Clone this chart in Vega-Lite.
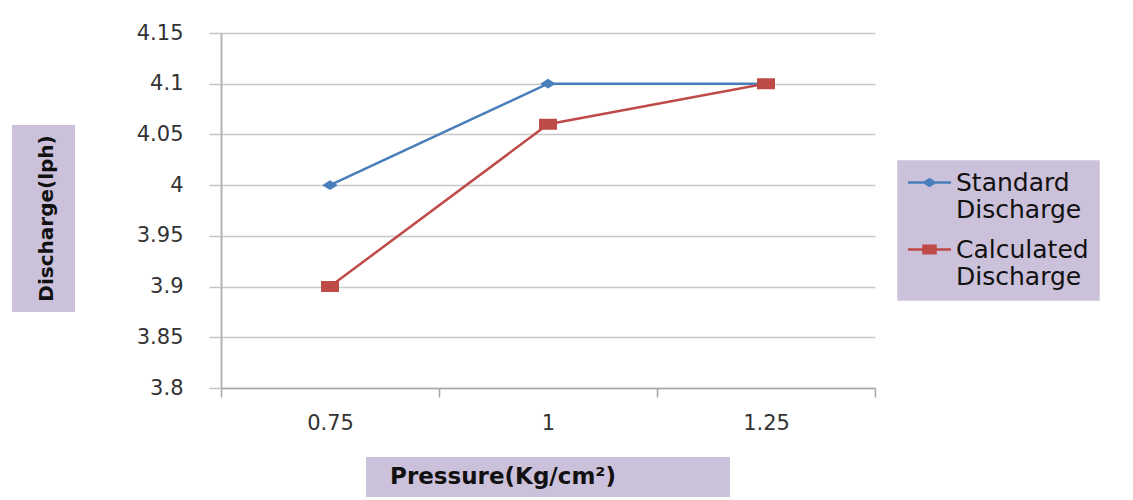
{
  "$schema": "https://vega.github.io/schema/vega-lite/v6.json",
  "background": "white",
  "padding": {"left": 12, "top": 22, "right": 0, "bottom": 0},
  "config": {
    "font": "DejaVu Sans",
    "view": {"stroke": null},
    "axis": {"labelFont": "DejaVu Sans", "labelColor": "#333333", "labelFontSize": 21}
  },
  "spacing": 209,
  "bounds": "flush",
  "hconcat": [
    {
      "spacing": 0,
      "bounds": "flush",
      "vconcat": [
        {
          "width": 63,
          "height": 92,
          "data": {"values": [{"t": ""}]},
          "mark": {"type": "text"},
          "encoding": {"text": {"field": "t"}}
        },
        {
          "width": 63,
          "height": 187,
          "view": {"fill": "#ccc1da", "stroke": null},
          "data": {"values": [{"t": "Discharge(lph)"}]},
          "mark": {"type": "text", "angle": 270, "fontWeight": "bold", "fontSize": 20, "color": "#111111", "dy": 3},
          "encoding": {"text": {"field": "t"}}
        }
      ]
    },
    {
      "spacing": 69,
      "center": true,
      "bounds": "flush",
      "vconcat": [
        {
          "width": 654,
          "height": 355,
          "data": {
            "values": [
              {"pressure": 0.75, "discharge": 4.0, "series": "Standard Discharge"},
              {"pressure": 1, "discharge": 4.1, "series": "Standard Discharge"},
              {"pressure": 1.25, "discharge": 4.1, "series": "Standard Discharge"},
              {"pressure": 0.75, "discharge": 3.9, "series": "Calculated Discharge"},
              {"pressure": 1, "discharge": 4.06, "series": "Calculated Discharge"},
              {"pressure": 1.25, "discharge": 4.1, "series": "Calculated Discharge"}
            ]
          },
          "encoding": {
            "x": {
              "field": "pressure",
              "type": "ordinal",
              "scale": {"type": "band", "paddingInner": 0, "paddingOuter": 0},
              "axis": {
                "title": null,
                "labelAngle": 0,
                "labelPadding": 15,
                "tickBand": "extent",
                "tickSize": 9,
                "tickColor": "#a6a6a6",
                "tickWidth": 1.5,
                "domainColor": "#a6a6a6",
                "domainWidth": 1.5,
                "grid": false
              }
            },
            "y": {
              "field": "discharge",
              "type": "quantitative",
              "scale": {"domain": [3.8, 4.15], "nice": false, "zero": false},
              "axis": {
                "title": null,
                "values": [3.8, 3.85, 3.9, 3.95, 4, 4.05, 4.1, 4.15],
                "format": "~g",
                "labelPadding": 26,
                "tickSize": 12,
                "tickColor": "#c4c4c4",
                "tickWidth": 1.5,
                "gridColor": "#c8c8c8",
                "gridWidth": 1.5,
                "domainColor": "#b5b5b5",
                "domainWidth": 2
              }
            },
            "color": {
              "field": "series",
              "type": "nominal",
              "scale": {"domain": ["Standard Discharge", "Calculated Discharge"], "range": ["#4a7ebb", "#be4b48"]},
              "legend": {
                "orient": "none",
                "legendX": 885,
                "legendY": 127,
                "title": null,
                "fillColor": "#ccc1da",
                "strokeColor": "#d9d2e6",
                "padding": 10,
                "labelFontSize": 25,
                "labelColor": "#111111",
                "labelLimit": 400,
                "labelOffset": 14,
                "labelExpr": "split(datum.label, ' ')",
                "symbolSize": 76,
                "symbolOffset": 10,
                "symbolStrokeWidth": 2.5,
                "rowPadding": 14
              }
            }
          },
          "layer": [
            {"mark": {"type": "line", "strokeWidth": 2.5}},
            {
              "mark": {"type": "point", "filled": true, "size": 169, "opacity": 1},
              "encoding": {
                "shape": {
                  "field": "series",
                  "type": "nominal",
                  "scale": {
                    "domain": ["Standard Discharge", "Calculated Discharge"],
                    "range": ["M-4.94,0H4.94M0,-0.75L1.2,0L0,0.75L-1.2,0Z", "M-4.94,0H4.94M-1.38,-0.85H1.38V0.85H-1.38Z"]
                  },
                  "legend": null
                }
              }
            }
          ]
        },
        {
          "width": 364,
          "height": 40,
          "view": {"fill": "#ccc1da", "stroke": null},
          "data": {"values": [{"t": "Pressure(Kg/cm²)"}]},
          "mark": {"type": "text", "fontWeight": "bold", "fontSize": 23, "dx": -45, "color": "#111111"},
          "encoding": {"text": {"field": "t"}}
        }
      ]
    }
  ]
}
